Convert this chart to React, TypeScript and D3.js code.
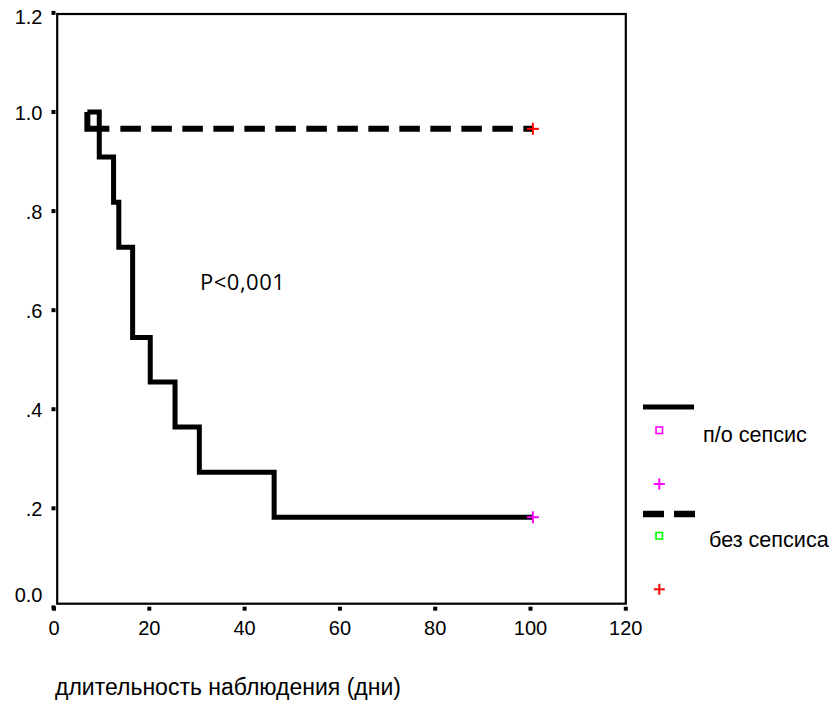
import React from "react";
import * as d3 from "d3";

// ---- data ----
const sepsisTimes = [7, 9.5, 12.5, 13.6, 16.5, 20.2, 25.4, 30.5, 46.2, 100.5];
const sepsisSurv = [1.0, 0.909, 0.818, 0.727, 0.545, 0.455, 0.364, 0.273, 0.182, 0.182];
const noSepsisTimes = [7, 7, 100.5];
const noSepsisSurv = [1.0, 0.966, 0.966];
const censorSepsis = [{ t: 100.5, s: 0.182 }];
const censorNoSepsis = [{ t: 100.5, s: 0.966 }];
const xTicks = [0, 20, 40, 60, 80, 100, 120];
const yTicks = [0, 0.2, 0.4, 0.6, 0.8, 1.0, 1.2];
const yTickLabels = ["0.0", ".2", ".4", ".6", ".8", "1.0", "1.2"];
const seriesNames = ["п/о сепсис", "без сепсиса"];
const xTitle = "длительность наблюдения (дни)";
const annotation = "P<0,001";

const W = 833;
const H = 709;
const FONT = "'Liberation Sans', Arial, sans-serif";

export default function App() {
  const x = d3.scaleLinear().domain([0, 120]).range([54, 625.8]);
  const y = d3.scaleLinear().domain([0, 1.2]).range([607.4, 12.9]);
  const box = { left: 57.2, top: 14, right: 625.8, bottom: 603.7 };

  const line = d3
    .line<[number, number]>()
    .x((d) => x(d[0]))
    .y((d) => y(d[1]))
    .curve(d3.curveStepAfter);

  const sepsisPts = sepsisTimes.map((t, i) => [t, sepsisSurv[i]] as [number, number]);
  const noSepsisPts = noSepsisTimes.map((t, i) => [t, noSepsisSurv[i]] as [number, number]);

  // dash pattern: first dash covers the initial drop plus a full dash
  const dropLen = y(noSepsisSurv[1]) - y(noSepsisSurv[0]);
  const dashArr: number[] = [dropLen + 22, 11];
  for (let i = 0; i < 16; i++) dashArr.push(20.5, 10.5);

  const labelY = (v: number) => Math.max(box.top + 3, Math.min(box.bottom - 9, y(v) + 1));

  const plus = (cx: number, cy: number, color: string, size: number, key?: string) => (
    <g key={key} stroke={color} strokeWidth={2}>
      <line x1={cx - size / 2} x2={cx + size / 2} y1={cy} y2={cy} />
      <line x1={cx} x2={cx} y1={cy - size / 2} y2={cy + size / 2} />
    </g>
  );

  return (
    <svg
      width={W}
      height={H}
      style={{ position: "absolute", left: 0, top: 0, background: "#fff" }}
      fontFamily={FONT}
    >
      <rect x={0} y={0} width={W} height={H} fill="#fff" />
      {/* plot frame */}
      <rect
        x={box.left}
        y={box.top}
        width={box.right - box.left}
        height={box.bottom - box.top}
        fill="none"
        stroke="#000"
        strokeWidth={2.2}
      />
      {/* y ticks */}
      {yTicks.map((v, i) => (
        <g key={"y" + i}>
          <rect x={51.5} y={y(v) - 2} width={4} height={4} fill="#000" />
          <text x={42.5} y={labelY(v)} fontSize={20} textAnchor="end" dominantBaseline="central" fill="#000">
            {yTickLabels[i]}
          </text>
        </g>
      ))}
      {/* x ticks */}
      {xTicks.map((v, i) => (
        <g key={"x" + i}>
          <rect x={x(v) - 2} y={606.7} width={4} height={4} fill="#000" />
          <text x={x(v)} y={628} fontSize={20} textAnchor="middle" dominantBaseline="central" fill="#000">
            {v}
          </text>
        </g>
      ))}
      {/* curves */}
      <path d={line(sepsisPts) || ""} fill="none" stroke="#000" strokeWidth={5} strokeLinejoin="miter" />
      <path
        d={line(noSepsisPts) || ""}
        fill="none"
        stroke="#000"
        strokeWidth={6}
        strokeDasharray={dashArr.join(" ")}
      />
      {censorSepsis.map((c, i) => plus(x(c.t), y(c.s), "#ff00ff", 12, "cs" + i))}
      {censorNoSepsis.map((c, i) => plus(x(c.t), y(c.s), "#ff0000", 12, "cn" + i))}
      {/* annotation */}
      <text x={200} y={290} fontSize={22} letterSpacing={0.5} fontFamily="'Open Sans', sans-serif" fill="#000">
        {annotation}
      </text>
      {/* legend */}
      <g>
        <line x1={643} x2={694} y1={407} y2={407} stroke="#000" strokeWidth={5} />
        <rect x={656} y={427} width={6.5} height={6.5} fill="none" stroke="#ff00ff" strokeWidth={1.6} />
        <text x={703} y={442} fontSize={21.6} fill="#000">
          {seriesNames[0]}
        </text>
        {plus(659.3, 484, "#ff00ff", 11)}
        <line x1={643} x2={695} y1={514} y2={514} stroke="#000" strokeWidth={6.5} strokeDasharray="21 10" />
        <rect x={656} y={532.5} width={6.5} height={6.5} fill="none" stroke="#00ff00" strokeWidth={1.6} />
        <text x={709} y={547} fontSize={21.6} fill="#000">
          {seriesNames[1]}
        </text>
        {plus(659.3, 589.3, "#ff0000", 11)}
      </g>
      {/* axis title */}
      <text x={55} y={695} fontSize={23} fill="#000">
        {xTitle}
      </text>
    </svg>
  );
}
